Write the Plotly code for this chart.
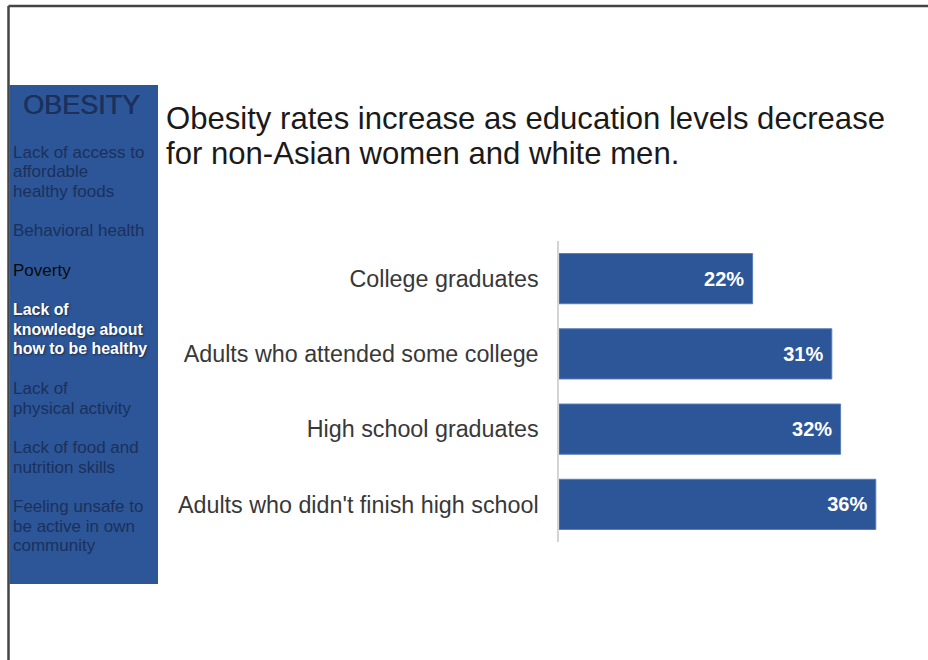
import plotly.graph_objects as go

W, H = 928, 660

# Obesity rate by education level (percent)
education_levels = [
    "College graduates",
    "Adults who attended some college",
    "High school graduates",
    "Adults who didn't finish high school",
]
obesity_rates = [22, 31, 32, 36]

title_lines = [
    "Obesity rates increase as education levels decrease",
    "for non-Asian women and white men.",
]

sidebar_heading = "OBESITY"
# Sidebar factors: (lines, style)
sidebar_items = [
    (["Lack of access to", "affordable", "healthy foods"], "dim"),
    (["Behavioral health"], "dim"),
    (["Poverty"], "black"),
    (["Lack of", "knowledge about", "how to be healthy"], "highlight"),
    (["Lack of", "physical activity"], "dim"),
    (["Lack of food and", "nutrition skills"], "dim"),
    (["Feeling unsafe to", "be active in own", "community"], "dim"),
]

BLUE = "#2C5697"
NAVY_TEXT = "#1B305C"
FONT = "Liberation Sans, Arial, sans-serif"

# Plot area in pixels
ML, MR, MT, MB = 559, 17, 241, 118
PW, PH = W - ML - MR, H - MT - MB


def px_x(x):
    """Pixel column -> paper x (relative to plot area)."""
    return (x - ML) / PW


def px_y(y):
    """Pixel row -> paper y (relative to plot area)."""
    return (H - MB - y) / PH


fig = go.Figure()

fig.add_trace(go.Bar(
    x=obesity_rates,
    y=education_levels,
    orientation="h",
    marker=dict(color=BLUE, line=dict(color="#5A7DB5", width=1)),
    texttemplate="%{x}%\u00a0",
    textposition="inside",
    insidetextanchor="end",
    textfont=dict(family=FONT, size=20, color="white", weight="bold"),
    hoverinfo="skip",
    cliponaxis=False,
))

shapes = []
# Page frame (top and left edges)
shapes.append(dict(type="line", xref="paper", yref="paper",
                   x0=px_x(8.5), x1=px_x(W), y0=px_y(6), y1=px_y(6),
                   line=dict(color="#444444", width=2.5)))
shapes.append(dict(type="line", xref="paper", yref="paper",
                   x0=px_x(8.5), x1=px_x(8.5), y0=px_y(6), y1=px_y(H),
                   line=dict(color="#444444", width=2.5)))
# Sidebar panel
shapes.append(dict(type="rect", xref="paper", yref="paper",
                   x0=px_x(9.5), x1=px_x(158), y0=px_y(85), y1=px_y(584),
                   fillcolor=BLUE, line=dict(width=0), layer="below"))

annotations = []
# Headline, two lines
for line_text, y_mid in zip(title_lines, [118, 153]):
    annotations.append(dict(
        text=line_text, xref="paper", yref="paper",
        x=px_x(164), y=px_y(y_mid), xanchor="left", yanchor="middle",
        showarrow=False, font=dict(family=FONT, size=31.1, color="#1A1A1A"),
    ))

# Sidebar heading
annotations.append(dict(
    text=sidebar_heading, xref="paper", yref="paper",
    x=px_x(82), y=px_y(105), xanchor="center", yanchor="middle",
    showarrow=False,
    font=dict(family=FONT, size=27, color=NAVY_TEXT,
              shadow="0.5px 0px 0px #1B305C"),
))

# Sidebar factor list
y = 152
for lines, style in sidebar_items:
    for ln in lines:
        if style == "highlight":
            font = dict(family=FONT, size=15.9, color="white", weight="bold",
                        shadow="1px 1px 2px #1a2a4a")
        elif style == "black":
            font = dict(family=FONT, size=17, color="#0A0A0A")
        else:
            font = dict(family=FONT, size=17, color=NAVY_TEXT)
        annotations.append(dict(
            text=ln, xref="paper", yref="paper",
            x=px_x(11), y=px_y(y), xanchor="left", yanchor="middle",
            showarrow=False, font=font,
        ))
        y += 19.7
    y += 19.7

fig.update_layout(
    width=W, height=H,
    margin=dict(l=ML, r=MR, t=MT, b=MB),
    paper_bgcolor="white",
    plot_bgcolor="white",
    showlegend=False,
    bargap=0.333,
    shapes=shapes,
    annotations=annotations,
    xaxis=dict(range=[0, 40], visible=False, fixedrange=True),
    yaxis=dict(
        autorange="reversed",
        showline=True, linecolor="#D4D4D4", linewidth=1.5,
        showgrid=False, ticks="",
        ticklabelstandoff=14,
        tickfont=dict(family=FONT, size=23.3, color="#383838"),
        fixedrange=True,
    ),
    font=dict(family=FONT),
)

fig.write_html("out.html", config={"displayModeBar": False})
